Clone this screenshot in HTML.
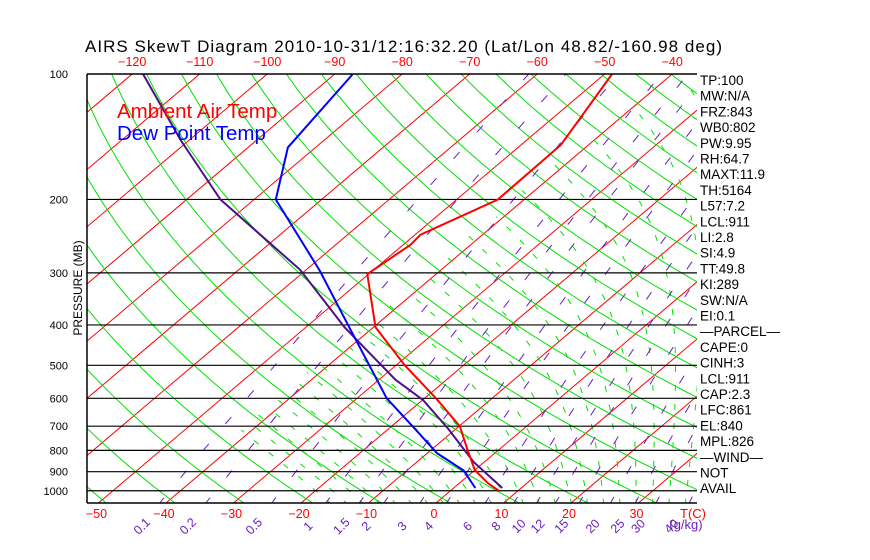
<!DOCTYPE html>
<html><head><meta charset="utf-8"><style>
body{margin:0;background:#fff;}
svg{display:block;font-family:"Liberation Sans",sans-serif;}
</style></head><body>
<svg id="c" width="870" height="560" xmlns="http://www.w3.org/2000/svg"></svg>
<script>
// ---- data ----
const tempP = [100,148,200,243,257,302,405,500,600,700,800,892,960,1000];
const tempT = [-48.9,-44.1,-43.9,-49.2,-48.9,-50.2,-39.7,-28.7,-18.3,-9.9,-4.5,0,4.3,7.2];
const parcelP = [100,144,200,295,405,541,606,711,853,985];
const parcelT = [-118.4,-101.3,-85,-60.9,-44.3,-27.6,-19.9,-11.1,-1.6,7.2];
const dewP = [100,150,200,296,405,600,710,812,894,985];
const dewT = [-87.3,-84.1,-76.8,-57.9,-43.6,-25.6,-16.1,-8.6,-1.6,3.2];
const pressureTicks = [100,200,300,400,500,600,700,800,900,1000];
const bottomTicks = [-50,-40,-30,-20,-10,0,10,20,30];
const topTicks = [-120,-110,-100,-90,-80,-70,-60,-50,-40];
const mixRatios = [0.1,0.2,0.5,1,1.5,2,3,4,6,8,10,12,15,20,25,30,40];
const indices = ["TP:100","MW:N/A","FRZ:843","WB0:802","PW:9.95","RH:64.7","MAXT:11.9","TH:5164","L57:7.2","LCL:911","LI:2.8","SI:4.9","TT:49.8","KI:289","SW:N/A","EI:0.1","\u2014PARCEL\u2014","CAPE:0","CINH:3","LCL:911","CAP:2.3","LFC:861","EL:840","MPL:826","\u2014WIND\u2014"," NOT"," AVAIL"];

// ---- axes ----
const L=87,R=697,T0=74,B=503;
const yP = p => T0 + 181*Math.log(p/100);
const xT = (t,y) => 436 + 6.75*t + 1.18*(B-y);
const NS="http://www.w3.org/2000/svg";
const svg=document.getElementById('c');
function mk(tag,attrs,parent){const e=document.createElementNS(NS,tag);for(const k in attrs)e.setAttribute(k,attrs[k]);(parent||svg).appendChild(e);return e;}
const defs=mk('defs',{});
const cp=mk('clipPath',{id:'clip'},defs);mk('rect',{x:L,y:T0,width:R-L,height:B-T0},cp);
const g=mk('g',{'clip-path':'url(#clip)'});


function pathFrom(pts){return pts.map((q,i)=>(i?'L':'M')+q[0].toFixed(1)+','+q[1].toFixed(1)).join('');}

// isotherms
for(let t=-160;t<=50;t+=10){
  const e=mk('line',{x1:xT(t,B),y1:B,x2:xT(t,T0),y2:T0,stroke:'#ff0000','stroke-width':1},g);
  
  
}
// dry adiabats
for(let th=200;th<=560;th+=10){
  const pts=[];
  for(let p=1080;p>=95;p-=10){const tk=th*Math.pow(p/1000,0.286);const y=yP(p);pts.push([xT(tk-273.15,y),y]);}
  const e=mk('path',{d:pathFrom(pts),fill:'none',stroke:'#00e000','stroke-width':1},g);
  
  
}
// moist adiabats
const es=t=>6.112*Math.exp(17.67*t/(t+243.5));
function dTdp(tk,p){const e=es(tk-273.15);const rs=0.622*e/(p-e);return (287*tk+2.5e6*rs)/(1004+2.5e6*2.5e6*rs*0.622/(287*tk*tk))/p;}
for(let tw=-20;tw<=40;tw+=2.5){
  let tk=tw+273.15;
  for(let pp=1000;pp<1080;pp+=5){tk+=dTdp(tk,pp)*5;}
  let p=1080;const pts=[];
  while(p>100 && tk-273.15>-42){const y=yP(p);pts.push([xT(tk-273.15,y),y]);tk-=dTdp(tk,p)*5;p-=5;}
  if(pts.length<2)continue;
  const e=mk('path',{d:pathFrom(pts),fill:'none',stroke:'#00e000','stroke-width':1,'stroke-dasharray':'6 13'},g);
  
  
}
// mixing ratio lines
const tdW=(w,p)=>{const e=w*p/(622+w);const a=Math.log(e/6.112);return 243.5*a/(17.67-a);};
mixRatios.forEach(w=>{
  const pts=[];for(let p=1080;p>=100;p-=10){const y=yP(p);pts.push([xT(tdW(w,p),y),y]);}
  const e=mk('path',{d:pathFrom(pts),fill:'none',stroke:'#6a1fc0','stroke-width':1,'stroke-dasharray':'9 26'},g);
  
  
});
// pressure lines
pressureTicks.forEach(p=>{if(p===100)return;const y=yP(p);
  const e=mk('line',{x1:L,y1:y,x2:R,y2:y,stroke:'#000','stroke-width':1.2},g);
  
  
});
// series
function series(P,Tt,col,name){const pts=P.map((p,i)=>{const y=yP(p);return [xT(Tt[i],y),y];});
  const e=mk('path',{d:pathFrom(pts),fill:'none',stroke:col,'stroke-width':2},g);
  
  }
series(parcelP,parcelT,'#4b0f8a','parcel-line');
series(dewP,dewT,'#0000ff','dewpoint-line');
series(tempP,tempT,'#ff0000','temperature-line');
// frame
const f1=mk('line',{x1:L,y1:T0,x2:R,y2:T0,stroke:'#000','stroke-width':1.5});

const f2=mk('line',{x1:L,y1:B,x2:R,y2:B,stroke:'#000','stroke-width':1.5});

const f3=mk('line',{x1:L,y1:T0,x2:L,y2:B,stroke:'#000','stroke-width':1.5});


function txt(s,attrs,name){const e=mk('text',attrs);e.textContent=s;return e;}
txt('AIRS SkewT Diagram 2010-10-31/12:16:32.20 (Lat/Lon 48.82/-160.98 deg)',{x:85,y:52,'font-size':17,textLength:637,lengthAdjust:'spacing',fill:'#000'},'chart-title');
txt('Ambient Air Temp',{x:117,y:118,'font-size':20.5,fill:'#ff0000'},'legend-ambient-temp');
txt('Dew Point Temp',{x:117,y:140,'font-size':20.5,fill:'#0000ff'},'legend-dewpoint-temp');
pressureTicks.forEach(p=>txt(String(p),{x:68,y:yP(p)+4,'font-size':11,'text-anchor':'end',fill:'#000'},'pressure-tick-label'));
txt('PRESSURE (MB)',{x:82,y:288,'font-size':12,'text-anchor':'middle',fill:'#000',transform:'rotate(-90 82 288)'},'y-axis-title');
bottomTicks.forEach(t=>txt(t<0?'\u2212'+(-t):String(t),{x:xT(t,B)-2,y:518,'font-size':12.5,'text-anchor':'middle',fill:'#ff0000'},'bottom-temp-tick'));
topTicks.forEach(t=>txt('\u2212'+(-t),{x:xT(t,T0),y:66,'font-size':12.5,'text-anchor':'middle',fill:'#ff0000'},'top-temp-tick'));
txt('T(C)',{x:693,y:518,'font-size':13,'text-anchor':'middle',fill:'#ff0000'},'temp-unit-label');
mixRatios.forEach(w=>{const x=xT(tdW(w,1070),B)-17;
  txt(String(w),{x:x,y:530,'font-size':12.5,'text-anchor':'middle',fill:'#6a1fc0',transform:'rotate(-45 '+x+' 527)'},'mixing-ratio-label');});
txt('(g/kg)',{x:686,y:529,'font-size':13,'text-anchor':'middle',fill:'#6a1fc0'},'mixing-ratio-unit');
indices.forEach((s,i)=>txt(s,{x:700,y:85+i*15.7,'font-size':13.5,fill:'#000'},'stability-index'));
</script>
</body></html>
